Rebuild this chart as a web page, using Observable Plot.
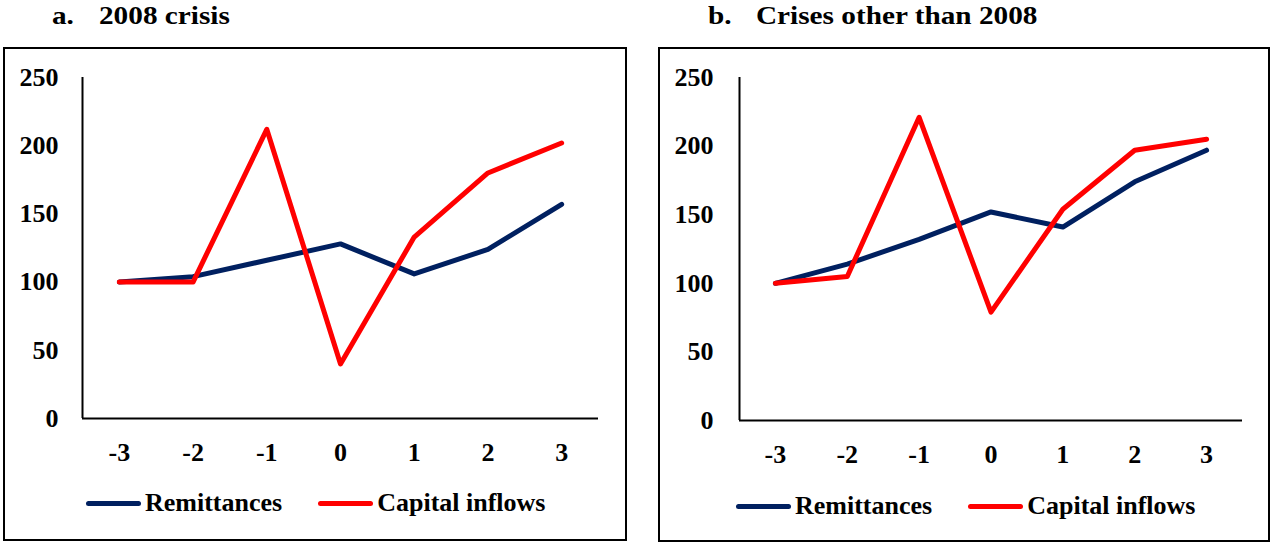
<!DOCTYPE html>
<html><head><meta charset="utf-8">
<script src="https://cdn.jsdelivr.net/npm/d3@7"></script>
<script src="https://cdn.jsdelivr.net/npm/@observablehq/plot@0.6"></script>
<style>
html,body{margin:0;padding:0;background:#fff}
body{width:1272px;height:544px;position:relative;overflow:hidden;font-family:"Liberation Serif","Times New Roman",serif;font-weight:bold;color:#000}
.box{position:absolute;border:2px solid #000;box-sizing:border-box}
.title{position:absolute;font-size:25px;line-height:25px;transform:scaleX(1.17);transform-origin:left center;white-space:nowrap}
.plot{position:absolute}
.legend{position:absolute;display:flex;align-items:center;font-size:26px;line-height:26px;white-space:nowrap}
.item{display:flex;align-items:center;margin-right:36px}
.sw{display:inline-block;width:55px;height:5px;border-radius:3px;margin-right:4px}
</style></head><body>
<script>
const years = [-3, -2, -1, 0, 1, 2, 3];
const remit2008 = [100, 104, 116, 128, 106, 124, 157];
const capital2008 = [100, 100, 212, 40, 133, 180, 202];
const remitOther = [100, 114, 132, 152, 141, 174, 197];
const capitalOther = [100, 105, 221, 79, 154, 197, 205];
const seriesNames = ["Remittances", "Capital inflows"];
const seriesColors = ["#002060", "#FF0000"];
const yTicks = [0, 50, 100, 150, 200, 250];
const panelLetters = ["a.", "b."];
const panelTitles = ["2008 crisis", "Crises other than 2008"];

const layouts = [
  {box:{l:3,t:47,w:624,h:494}, svg:{l:5,t:49,w:620,h:431,ml:77,mr:27,mt:28,mb:62,yPad:24,xPad:24},
   title:{l1:52,l2:99,t:3}, legend:{l:86,c:503}},
  {box:{l:658,t:47,w:612,h:495}, svg:{l:660,t:49,w:608,h:431,ml:79,mr:26,mt:28,mb:60,yPad:26,xPad:24},
   title:{l1:708,l2:756,t:3}, legend:{l:736,c:506}}
];
const panelData = [[remit2008, capital2008], [remitOther, capitalOther]];

function el(tag, cls, css, text) {
  const e = document.createElement(tag);
  if (cls) e.className = cls;
  if (css) Object.assign(e.style, css);
  if (text != null) e.textContent = text;
  document.body.appendChild(e);
  return e;
}

layouts.forEach((L, pi) => {
  el("div", "box", {left:L.box.l+"px", top:L.box.t+"px", width:L.box.w+"px", height:L.box.h+"px"});
  el("div", "title", {left:L.title.l1+"px", top:L.title.t+"px"}, panelLetters[pi]);
  el("div", "title", {left:L.title.l2+"px", top:L.title.t+"px"}, panelTitles[pi]);

  const [rem, cap] = panelData[pi];
  const data = [];
  years.forEach((t, i) => data.push({t, v: rem[i], s: seriesNames[0]}));
  years.forEach((t, i) => data.push({t, v: cap[i], s: seriesNames[1]}));
  const S = L.svg;
  const font = {fontFamily:'"Liberation Serif", serif', fontSize:26, fontWeight:"bold", fill:"#000"};
  const p = Plot.plot({
    width: S.w, height: S.h,
    marginLeft: S.ml, marginRight: S.mr, marginTop: S.mt, marginBottom: S.mb,
    style: {fontFamily:'"Liberation Serif", serif', fontSize:"26px", fontWeight:"bold", color:"#000", background:"transparent", overflow:"visible"},
    x: {type:"linear", domain:[years[0]-0.5, years[years.length-1]+0.5], label:null},
    y: {type:"linear", domain:[yTicks[0], yTicks[yTicks.length-1]], label:null},
    color: {domain: seriesNames, range: seriesColors},
    marks: [
      Plot.axisY({ticks: yTicks, tickSize:0, tickPadding:S.yPad, tickFormat: d => String(d), label:null, ...font}),
      Plot.axisX({ticks: years, tickSize:0, tickPadding:S.xPad, tickFormat: d => String(d), label:null, ...font}),
      Plot.ruleY([yTicks[0]], {stroke:"#000", strokeWidth:2}),
      Plot.ruleX([years[0]-0.5], {y1:yTicks[0], y2:yTicks[yTicks.length-1], stroke:"#000", strokeWidth:2}),
      Plot.line(data, {x:"t", y:"v", z:"s", stroke:"s", strokeWidth:5, strokeLinecap:"round", strokeLinejoin:"round"})
    ]
  });
  p.classList.add("plot");
  p.style.position = "absolute";
  p.style.left = S.l + "px";
  p.style.top = S.t + "px";
  document.body.appendChild(p);

  const lg = el("div", "legend", {left:L.legend.l+"px", top:(L.legend.c-13)+"px"});
  seriesNames.forEach((n, i) => {
    const it = document.createElement("div");
    it.className = "item";
    const sw = document.createElement("span");
    sw.className = "sw";
    sw.style.background = seriesColors[i];
    const tx = document.createElement("span");
    tx.textContent = n;
    it.appendChild(sw); it.appendChild(tx);
    lg.appendChild(it);
  });
});
</script>
</body></html>
